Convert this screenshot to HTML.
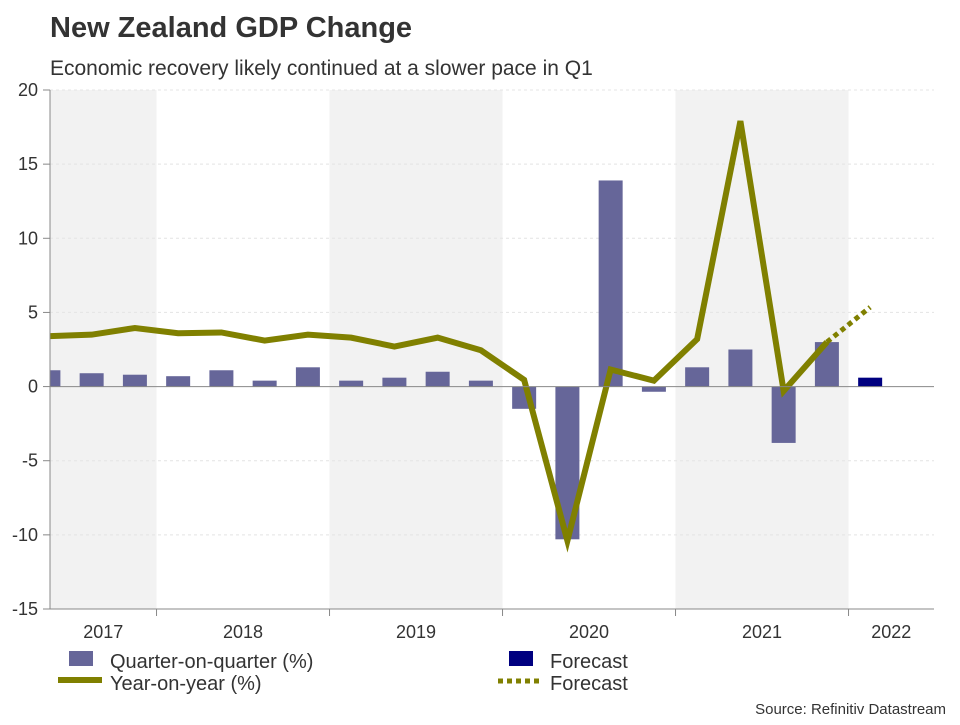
<!DOCTYPE html>
<html><head><meta charset="utf-8"><style>
body{margin:0;background:#fff;font-family:"Liberation Sans",Arial,sans-serif;}
</style></head><body>
<svg width="960" height="720" xmlns="http://www.w3.org/2000/svg" style="font-family:'Liberation Sans',Arial,sans-serif">
<text x="50" y="37" font-size="29" font-weight="bold" fill="#333">New Zealand GDP Change</text>
<text x="50" y="75" font-size="21" fill="#333">Economic recovery likely continued at a slower pace in Q1</text>
<g id="bands"></g>
<g id="grid"></g>
<g id="bars"></g>
<g id="lines"></g>
<g id="axes"></g>
<g font-size="20" fill="#333">
<rect x="69" y="651" width="24" height="15" fill="#666699"/>
<text x="110" y="668">Quarter-on-quarter (%)</text>
<line x1="58" y1="680" x2="102" y2="680" stroke="#808000" stroke-width="6"/>
<text x="110" y="690">Year-on-year (%)</text>
<rect x="509" y="651" width="24" height="15" fill="#000080"/>
<text x="550" y="668">Forecast</text>
<line x1="498" y1="681" x2="542" y2="681" stroke="#808000" stroke-width="5" stroke-dasharray="5,4"/>
<text x="550" y="690">Forecast</text>
</g>
<text x="946" y="714" font-size="15" fill="#333" text-anchor="end">Source: Refinitiv Datastream</text>
</svg>
<script>
const years = ["2017","2018","2019","2020","2021","2022"];
const qoq = [1.1,0.9,0.8,0.7,1.1,0.4,1.3,0.4,0.6,1.0,0.4,-1.5,-10.3,13.9,-0.35,1.3,2.5,-3.8,3.0];
const qoqForecast = [0.6];
const yoy = [3.4,3.5,3.95,3.6,3.65,3.1,3.5,3.3,2.7,3.3,2.45,0.45,-10.4,1.15,0.4,3.2,17.9,-0.3,3.0];
const yoyForecast = [5.35];
const yTicks = [20,15,10,5,0,-5,-10,-15];
const NS="http://www.w3.org/2000/svg";
const L=50,R=934,T=90,B=609,QW=43.25,X0=48.4;
const yS=v=>T+(20-v)*(B-T)/35;
const xS=i=>X0+QW*i;
function mk(tag,attrs,parent){const e=document.createElementNS(NS,tag);for(const k in attrs)e.setAttribute(k,attrs[k]);parent.appendChild(e);return e;}
const bands=document.getElementById('bands'),grid=document.getElementById('grid'),bars=document.getElementById('bars'),lines=document.getElementById('lines'),axes=document.getElementById('axes');
years.forEach((y,k)=>{
  const s=Math.max(L,xS(-1.5+4*k)), e=Math.min(R,xS(2.5+4*k));
  if(k%2===0){const r=mk('rect',{x:s,y:T,width:e-s,height:B-T,fill:'#f2f2f2'},bands);
  
  }
  const t=mk('text',{x:(s+e)/2,y:638,'font-size':18,fill:'#333','text-anchor':'middle'},axes);
  t.textContent=y;
  
  
  if(k>0){const tk=mk('line',{x1:s,x2:s,y1:B,y2:B+7,stroke:'#888'},axes);
  
  }
});
yTicks.forEach(v=>{
  const y=yS(v);
  if(v!==0&&v!==-15){const g=mk('line',{x1:L,x2:R,y1:y,y2:y,stroke:'#e4e4e4','stroke-dasharray':'3,3'},grid);
  
  }
  const tk=mk('line',{x1:L-7,x2:L,y1:y,y2:y,stroke:'#888'},axes);
  
  
  const t=mk('text',{x:38,y:y+6,'font-size':18,fill:'#333','text-anchor':'end'},axes);
  t.textContent=v;
  
  
});
const clip=mk('clipPath',{id:'pc'},document.querySelector('svg'));
mk('rect',{x:L,y:T-20,width:R-L,height:B-T+40},clip);
bars.setAttribute('clip-path','url(#pc)');lines.setAttribute('clip-path','url(#pc)');
function bar(i,v,c){const y0=yS(0),y1=yS(v);const r=mk('rect',{x:xS(i)-12,y:Math.min(y0,y1),width:24,height:Math.abs(y1-y0),fill:c},bars);return r;}
qoq.forEach((v,i)=>{const r=bar(i,v,'#666699');

});
qoqForecast.forEach((v,j)=>{const r=bar(qoq.length+j,v,'#000080');

});
const pts=yoy.map((v,i)=>xS(i)+','+yS(v)).join(' ');
const pl=mk('polyline',{points:pts,fill:'none',stroke:'#808000','stroke-width':6,'stroke-linejoin':'miter'},lines);


const fp=[[yoy.length-1,yoy[yoy.length-1]]].concat(yoyForecast.map((v,j)=>[yoy.length+j,v])).map(p=>xS(p[0])+','+yS(p[1])).join(' ');
const fl=mk('polyline',{points:fp,fill:'none',stroke:'#808000','stroke-width':5,'stroke-dasharray':'5,4'},lines);


const z=mk('line',{x1:L,x2:R,y1:yS(0),y2:yS(0),stroke:'#888'},axes);


const xa=mk('line',{x1:L,x2:R,y1:B,y2:B,stroke:'#888'},axes);


const ya=mk('line',{x1:L,x2:L,y1:T,y2:B,stroke:'#888'},axes);


</script>
</body></html>
